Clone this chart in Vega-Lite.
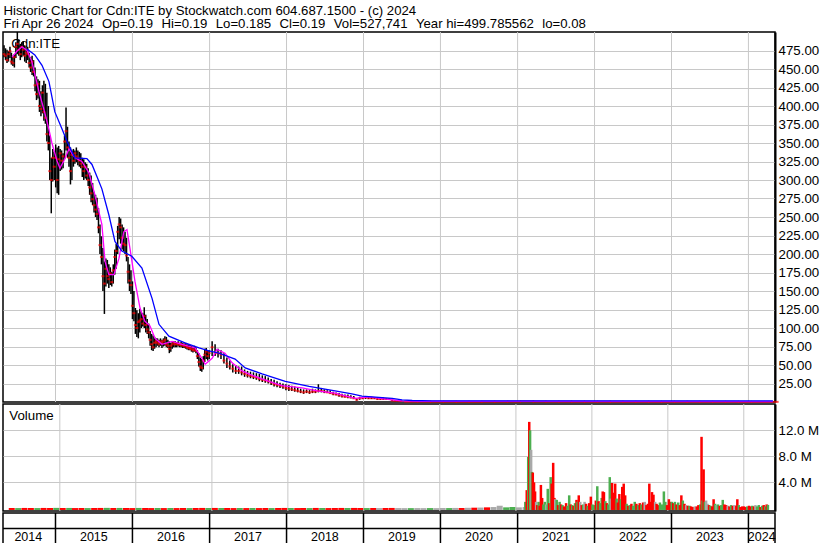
{
"$schema": "https://vega.github.io/schema/vega-lite/v6.json",
"padding": {"left": 1, "top": 3, "right": 0, "bottom": 0},
"background": "white",
"bounds": "flush",
"title": {"text": ["Historic Chart for Cdn:ITE by Stockwatch.com 604.687.1500 - (c) 2024", "Fri Apr 26 2024\u00a0\u200a\u00a0Op=0.19\u00a0\u200a\u00a0Hi=0.19\u00a0\u200a\u00a0Lo=0.185\u00a0\u200a\u00a0Cl=0.19\u00a0\u200a\u00a0Vol=527,741\u00a0\u200a\u00a0Year hi=499.785562\u00a0\u200a\u00a0lo=0.08"], "anchor": "start", "frame": "bounds", "font": "Liberation Sans", "fontSize": 13.2, "fontWeight": "normal", "color": "black", "lineHeight": 13.4, "offset": -1, "dx": 2, "baseline": "top"},
"spacing": 2,
"datasets": {
"ohlc": [
{"d":"2014-05-02","h":482,"l":466,"c":470},{"d":"2014-05-09","h":478,"l":462,"c":468},{"d":"2014-05-16","h":476,"l":458,"c":462},{"d":"2014-05-23","h":474,"l":460,"c":470},{"d":"2014-05-30","h":480,"l":465,"c":474},{"d":"2014-06-06","h":472,"l":456,"c":460},{"d":"2014-06-13","h":468,"l":454,"c":458},{"d":"2014-06-20","h":470,"l":452,"c":466},{"d":"2014-06-27","h":486,"l":465,"c":480},{"d":"2014-07-04","h":500,"l":470,"c":484},{"d":"2014-07-11","h":490,"l":468,"c":476},{"d":"2014-07-18","h":484,"l":462,"c":470},{"d":"2014-07-25","h":486,"l":466,"c":480},{"d":"2014-08-01","h":488,"l":468,"c":476},{"d":"2014-08-08","h":482,"l":460,"c":468},{"d":"2014-08-15","h":478,"l":458,"c":472},{"d":"2014-08-22","h":480,"l":462,"c":470},{"d":"2014-08-29","h":472,"l":452,"c":458},{"d":"2014-09-05","h":466,"l":446,"c":452},{"d":"2014-09-12","h":468,"l":442,"c":460},{"d":"2014-09-19","h":462,"l":440,"c":446},{"d":"2014-09-26","h":452,"l":420,"c":428},{"d":"2014-10-03","h":440,"l":408,"c":416},{"d":"2014-10-10","h":436,"l":410,"c":430},{"d":"2014-10-17","h":434,"l":392,"c":400},{"d":"2014-10-24","h":420,"l":386,"c":396},{"d":"2014-10-31","h":428,"l":390,"c":418},{"d":"2014-11-07","h":434,"l":380,"c":392},{"d":"2014-11-14","h":430,"l":376,"c":384},{"d":"2014-11-21","h":418,"l":352,"c":362},{"d":"2014-11-28","h":400,"l":340,"c":350},{"d":"2014-12-05","h":360,"l":300,"c":312},{"d":"2014-12-12","h":330,"l":255,"c":300},{"d":"2014-12-19","h":342,"l":298,"c":330},{"d":"2014-12-26","h":338,"l":300,"c":318},
{"d":"2015-01-02","h":348,"l":290,"c":330},{"d":"2015-01-09","h":344,"l":282,"c":300},{"d":"2015-01-16","h":346,"l":280,"c":328},{"d":"2015-01-23","h":342,"l":312,"c":336},{"d":"2015-01-30","h":340,"l":314,"c":326},{"d":"2015-02-06","h":336,"l":316,"c":332},{"d":"2015-02-13","h":360,"l":328,"c":352},{"d":"2015-02-20","h":398,"l":340,"c":366},{"d":"2015-02-27","h":372,"l":330,"c":344},{"d":"2015-03-06","h":352,"l":318,"c":330},{"d":"2015-03-13","h":344,"l":294,"c":312},{"d":"2015-03-20","h":340,"l":300,"c":334},{"d":"2015-03-27","h":342,"l":318,"c":326},{"d":"2015-04-03","h":340,"l":322,"c":336},{"d":"2015-04-10","h":344,"l":324,"c":332},{"d":"2015-04-17","h":340,"l":320,"c":330},{"d":"2015-04-24","h":338,"l":318,"c":326},{"d":"2015-05-01","h":336,"l":316,"c":322},{"d":"2015-05-08","h":330,"l":304,"c":318},{"d":"2015-05-15","h":328,"l":300,"c":312},{"d":"2015-05-22","h":324,"l":302,"c":318},{"d":"2015-05-29","h":322,"l":300,"c":306},{"d":"2015-06-05","h":316,"l":292,"c":300},{"d":"2015-06-12","h":310,"l":280,"c":290},{"d":"2015-06-19","h":306,"l":270,"c":282},{"d":"2015-06-26","h":296,"l":266,"c":274},{"d":"2015-07-03","h":284,"l":256,"c":266},{"d":"2015-07-10","h":280,"l":250,"c":260},{"d":"2015-07-17","h":276,"l":246,"c":254},{"d":"2015-07-24","h":262,"l":228,"c":236},{"d":"2015-07-31","h":240,"l":200,"c":212},{"d":"2015-08-07","h":224,"l":186,"c":196},{"d":"2015-08-14","h":208,"l":150,"c":170},{"d":"2015-08-21","h":190,"l":119,"c":160},{"d":"2015-08-28","h":194,"l":156,"c":180},{"d":"2015-09-04","h":192,"l":160,"c":170},{"d":"2015-09-11","h":186,"l":154,"c":166},{"d":"2015-09-18","h":182,"l":158,"c":174},{"d":"2015-09-25","h":176,"l":156,"c":162},{"d":"2015-10-02","h":186,"l":160,"c":178},{"d":"2015-10-09","h":206,"l":172,"c":196},{"d":"2015-10-16","h":214,"l":180,"c":204},{"d":"2015-10-23","h":238,"l":200,"c":230},{"d":"2015-10-30","h":250,"l":220,"c":240},{"d":"2015-11-06","h":248,"l":214,"c":236},{"d":"2015-11-13","h":240,"l":206,"c":222},{"d":"2015-11-20","h":236,"l":204,"c":214},{"d":"2015-11-27","h":230,"l":200,"c":212},{"d":"2015-12-04","h":222,"l":190,"c":198},{"d":"2015-12-11","h":196,"l":160,"c":176},{"d":"2015-12-18","h":186,"l":150,"c":164},{"d":"2015-12-25","h":178,"l":146,"c":158},
{"d":"2016-01-01","h":163,"l":112,"c":130},{"d":"2016-01-08","h":150,"l":109,"c":120},{"d":"2016-01-15","h":127,"l":92,"c":104},{"d":"2016-01-22","h":124,"l":88,"c":100},{"d":"2016-01-29","h":120,"l":86,"c":108},{"d":"2016-02-05","h":126,"l":94,"c":110},{"d":"2016-02-12","h":122,"l":100,"c":112},{"d":"2016-02-19","h":120,"l":102,"c":106},{"d":"2016-02-26","h":128,"l":100,"c":116},{"d":"2016-03-04","h":118,"l":94,"c":104},{"d":"2016-03-11","h":112,"l":92,"c":98},{"d":"2016-03-18","h":106,"l":86,"c":94},{"d":"2016-03-25","h":96,"l":76,"c":84},{"d":"2016-04-01","h":92,"l":70,"c":78},{"d":"2016-04-08","h":90,"l":69,"c":74},{"d":"2016-04-15","h":88,"l":72,"c":80},{"d":"2016-04-22","h":86,"l":74,"c":82},{"d":"2016-04-29","h":86,"l":76,"c":80},{"d":"2016-05-06","h":84,"l":74,"c":78},{"d":"2016-05-13","h":86,"l":76,"c":82},{"d":"2016-05-20","h":84,"l":73,"c":80},{"d":"2016-05-27","h":86,"l":75,"c":82},{"d":"2016-06-03","h":89,"l":76,"c":84},{"d":"2016-06-10","h":88,"l":74,"c":78},{"d":"2016-06-17","h":84,"l":73,"c":76},{"d":"2016-06-24","h":82,"l":66,"c":72},{"d":"2016-07-01","h":80,"l":68,"c":76},{"d":"2016-07-08","h":82,"l":72,"c":78},{"d":"2016-07-15","h":82,"l":74,"c":80},{"d":"2016-07-22","h":82,"l":74,"c":78},{"d":"2016-07-29","h":81,"l":74,"c":78},{"d":"2016-08-05","h":82,"l":75,"c":79},{"d":"2016-08-12","h":80,"l":74,"c":77},{"d":"2016-08-19","h":81,"l":74,"c":78},{"d":"2016-08-26","h":80,"l":73,"c":76},{"d":"2016-09-02","h":79,"l":73,"c":77},{"d":"2016-09-09","h":80,"l":72,"c":75},{"d":"2016-09-16","h":78,"l":71,"c":74},{"d":"2016-09-23","h":78,"l":70,"c":73},{"d":"2016-09-30","h":77,"l":70,"c":72},{"d":"2016-10-07","h":76,"l":68,"c":72},{"d":"2016-10-14","h":75,"l":67,"c":70},{"d":"2016-10-21","h":76,"l":68,"c":71},{"d":"2016-10-28","h":74,"l":66,"c":69},{"d":"2016-11-04","h":70,"l":58,"c":62},{"d":"2016-11-11","h":66,"l":48,"c":54},{"d":"2016-11-18","h":60,"l":42,"c":48},{"d":"2016-11-25","h":58,"l":41,"c":46},{"d":"2016-12-02","h":62,"l":44,"c":56},{"d":"2016-12-09","h":72,"l":54,"c":64},{"d":"2016-12-16","h":73,"l":58,"c":68},{"d":"2016-12-23","h":70,"l":56,"c":62},{"d":"2016-12-30","h":70,"l":58,"c":66},
{"d":"2017-01-13","h":82,"l":62,"c":74},{"d":"2017-01-27","h":78,"l":62,"c":66},{"d":"2017-02-10","h":72,"l":60,"c":66},{"d":"2017-02-24","h":70,"l":58,"c":64},{"d":"2017-03-10","h":66,"l":52,"c":56},{"d":"2017-03-24","h":60,"l":46,"c":52},{"d":"2017-04-07","h":56,"l":44,"c":48},{"d":"2017-04-21","h":51,"l":40,"c":45},{"d":"2017-05-05","h":50,"l":38,"c":42},{"d":"2017-05-19","h":48,"l":38,"c":42},{"d":"2017-06-02","h":48,"l":36,"c":40},{"d":"2017-06-16","h":44,"l":34,"c":38},{"d":"2017-06-30","h":42,"l":33,"c":36},{"d":"2017-07-14","h":41,"l":32,"c":35},{"d":"2017-07-28","h":40,"l":31,"c":34},{"d":"2017-08-11","h":39,"l":30,"c":33},{"d":"2017-08-25","h":38,"l":28,"c":31},{"d":"2017-09-08","h":36,"l":27,"c":30},{"d":"2017-09-22","h":35,"l":26,"c":29},{"d":"2017-10-06","h":33,"l":25,"c":28},{"d":"2017-10-20","h":31,"l":23,"c":26},{"d":"2017-11-03","h":30,"l":21,"c":24},{"d":"2017-11-17","h":28,"l":20,"c":23},{"d":"2017-12-01","h":26,"l":19,"c":22},{"d":"2017-12-15","h":25,"l":18,"c":21},{"d":"2017-12-29","h":24,"l":16,"c":19},
{"d":"2018-01-12","h":23,"l":15,"c":18},{"d":"2018-01-26","h":22,"l":15,"c":17},{"d":"2018-02-09","h":21,"l":14,"c":16},{"d":"2018-02-23","h":19,"l":13,"c":15},{"d":"2018-03-09","h":18,"l":12,"c":14},{"d":"2018-03-23","h":17,"l":11,"c":13},{"d":"2018-04-06","h":17,"l":12,"c":14},{"d":"2018-04-20","h":16,"l":11,"c":13},{"d":"2018-05-04","h":18,"l":12,"c":14},{"d":"2018-05-18","h":17,"l":12,"c":14},{"d":"2018-06-01","h":24,"l":13,"c":15},{"d":"2018-06-15","h":19,"l":13,"c":15},{"d":"2018-06-29","h":17,"l":12,"c":14},{"d":"2018-07-13","h":16,"l":12,"c":13},{"d":"2018-07-27","h":16,"l":11,"c":12},{"d":"2018-08-10","h":14,"l":9,"c":11},{"d":"2018-08-24","h":13,"l":9,"c":10},{"d":"2018-09-07","h":12,"l":7,"c":9},{"d":"2018-09-21","h":11,"l":6,"c":8},{"d":"2018-10-05","h":10,"l":6,"c":7},{"d":"2018-10-19","h":10,"l":5,"c":7},{"d":"2018-11-02","h":9,"l":5,"c":6},{"d":"2018-11-16","h":8,"l":4,"c":5},{"d":"2018-11-30","h":5,"l":2,"c":3},{"d":"2018-12-14","h":7,"l":3,"c":5},{"d":"2018-12-28","h":7,"l":4,"c":5},
{"d":"2019-01-11","h":8,"l":4,"c":6},{"d":"2019-01-25","h":7,"l":4,"c":5},{"d":"2019-02-08","h":7,"l":4,"c":5},{"d":"2019-02-22","h":6,"l":4,"c":5},{"d":"2019-03-08","h":6,"l":3,"c":4},{"d":"2019-03-22","h":6,"l":3,"c":4},{"d":"2019-04-05","h":6,"l":3,"c":4},{"d":"2019-04-19","h":5,"l":3,"c":4},{"d":"2019-05-03","h":5,"l":3,"c":4},{"d":"2019-05-17","h":3,"l":1.5,"c":2},{"d":"2019-05-31","h":2.5,"l":1,"c":1.5},{"d":"2019-06-14","h":2,"l":1,"c":1.5},{"d":"2019-06-28","h":2,"l":0.8,"c":1.2}
],
"flat": [
{"d":"2019-08-15","h":0.9,"l":0.4,"c":0.5},{"d":"2019-10-15","h":0.8,"l":0.4,"c":0.5},{"d":"2019-12-15","h":0.7,"l":0.3,"c":0.4},{"d":"2020-02-15","h":0.7,"l":0.3,"c":0.4},{"d":"2020-04-15","h":0.6,"l":0.2,"c":0.3},{"d":"2020-06-15","h":0.6,"l":0.2,"c":0.3},{"d":"2020-08-15","h":0.7,"l":0.3,"c":0.4},{"d":"2020-10-15","h":0.7,"l":0.3,"c":0.4},{"d":"2020-12-15","h":0.8,"l":0.3,"c":0.5},{"d":"2021-02-15","h":1.2,"l":0.4,"c":0.8},{"d":"2021-04-15","h":1.0,"l":0.4,"c":0.6},{"d":"2021-06-15","h":0.9,"l":0.4,"c":0.5},{"d":"2021-08-15","h":0.8,"l":0.3,"c":0.5},{"d":"2021-10-15","h":0.8,"l":0.3,"c":0.4},{"d":"2021-12-15","h":0.7,"l":0.3,"c":0.4},{"d":"2022-02-15","h":0.7,"l":0.3,"c":0.4},{"d":"2022-04-15","h":0.7,"l":0.3,"c":0.4},{"d":"2022-06-15","h":0.6,"l":0.2,"c":0.3},{"d":"2022-08-15","h":0.6,"l":0.2,"c":0.3},{"d":"2022-10-15","h":0.6,"l":0.2,"c":0.3},{"d":"2022-12-15","h":0.5,"l":0.2,"c":0.3},{"d":"2023-02-15","h":0.5,"l":0.2,"c":0.3},{"d":"2023-04-15","h":0.5,"l":0.2,"c":0.3},{"d":"2023-06-15","h":0.6,"l":0.2,"c":0.3},{"d":"2023-08-15","h":0.5,"l":0.2,"c":0.25},{"d":"2023-10-15","h":0.4,"l":0.2,"c":0.25},{"d":"2023-12-15","h":0.4,"l":0.15,"c":0.2},{"d":"2024-02-15","h":0.3,"l":0.15,"c":0.2},{"d":"2024-04-20","h":0.3,"l":0.15,"c":0.19}
],
"fast": [
{"d":"2014-06-09","v":466},{"d":"2014-07-02","v":474},{"d":"2014-07-26","v":480},{"d":"2014-08-19","v":475},{"d":"2014-09-11","v":460},{"d":"2014-10-14","v":420},{"d":"2014-11-12","v":390},{"d":"2014-12-01","v":368},{"d":"2014-12-15","v":350},{"d":"2015-01-08","v":326},{"d":"2015-01-22","v":316},{"d":"2015-02-10","v":326},{"d":"2015-03-06","v":342},{"d":"2015-04-03","v":330},{"d":"2015-05-06","v":325},{"d":"2015-06-08","v":310},{"d":"2015-07-07","v":280},{"d":"2015-08-09","v":240},{"d":"2015-08-24","v":190},{"d":"2015-09-11","v":172},{"d":"2015-10-05","v":172},{"d":"2015-10-29","v":194},{"d":"2015-11-21","v":230},{"d":"2015-12-06","v":233},{"d":"2015-12-20","v":208},{"d":"2016-01-13","v":163},{"d":"2016-02-06","v":127},{"d":"2016-02-29","v":109},{"d":"2016-03-24","v":103},{"d":"2016-04-17","v":86},{"d":"2016-05-20","v":78},{"d":"2016-07-07","v":82},{"d":"2016-08-23","v":78},{"d":"2016-10-24","v":73},{"d":"2016-11-26","v":59},{"d":"2016-12-11","v":51},{"d":"2017-01-13","v":59},{"d":"2017-02-05","v":71},{"d":"2017-03-15","v":66},{"d":"2017-04-18","v":53},{"d":"2017-06-04","v":42},{"d":"2017-07-22","v":36},{"d":"2017-10-10","v":28},{"d":"2017-12-11","v":22},{"d":"2018-03-16","v":19},{"d":"2018-05-26","v":15},{"d":"2018-08-19","v":12},{"d":"2018-11-22","v":5},{"d":"2019-01-27","v":7},{"d":"2019-05-17","v":3},{"d":"2019-07-03","v":1.5},{"d":"2019-10-06","v":0.8},{"d":"2024-04-26","v":0.6}
],
"slow": [
{"d":"2014-08-19","v":477},{"d":"2014-09-25","v":469},{"d":"2014-10-29","v":455},{"d":"2014-12-01","v":433},{"d":"2014-12-29","v":392},{"d":"2015-02-01","v":369},{"d":"2015-02-25","v":352},{"d":"2015-04-03","v":330},{"d":"2015-05-30","v":329},{"d":"2015-06-23","v":321},{"d":"2015-07-16","v":305},{"d":"2015-08-09","v":288},{"d":"2015-09-11","v":253},{"d":"2015-10-10","v":217},{"d":"2015-11-12","v":204},{"d":"2015-12-29","v":197},{"d":"2016-02-15","v":181},{"d":"2016-04-03","v":140},{"d":"2016-05-06","v":105},{"d":"2016-06-22","v":89},{"d":"2016-09-06","v":80},{"d":"2016-11-12","v":73},{"d":"2016-12-29","v":69},{"d":"2017-02-14","v":66},{"d":"2017-05-02","v":58},{"d":"2017-06-19","v":46},{"d":"2017-09-07","v":38},{"d":"2017-12-26","v":28},{"d":"2018-04-18","v":21},{"d":"2018-08-19","v":15},{"d":"2018-11-07","v":11},{"d":"2018-12-25","v":8},{"d":"2019-05-17","v":5},{"d":"2019-07-03","v":3},{"d":"2019-08-20","v":2},{"d":"2019-11-22","v":1.6},{"d":"2024-04-26","v":1.5}
],
"vlow": [
{"d":"2014-05-15","v":0.05,"k":"d"},{"d":"2014-06-15","v":0.04,"k":"u"},{"d":"2014-07-15","v":0.06,"k":"d"},{"d":"2014-08-15","v":0.05,"k":"d"},{"d":"2014-09-15","v":0.04,"k":"u"},{"d":"2014-10-15","v":0.06,"k":"d"},{"d":"2014-11-15","v":0.05,"k":"d"},{"d":"2014-12-15","v":0.07,"k":"u"},{"d":"2015-01-15","v":0.05,"k":"d"},{"d":"2015-02-15","v":0.06,"k":"u"},{"d":"2015-03-15","v":0.04,"k":"d"},{"d":"2015-04-15","v":0.05,"k":"d"},{"d":"2015-05-15","v":0.04,"k":"u"},{"d":"2015-06-15","v":0.05,"k":"d"},{"d":"2015-07-15","v":0.06,"k":"d"},{"d":"2015-08-15","v":0.07,"k":"u"},{"d":"2015-09-15","v":0.05,"k":"d"},{"d":"2015-10-15","v":0.06,"k":"u"},{"d":"2015-11-15","v":0.05,"k":"d"},{"d":"2015-12-15","v":0.04,"k":"d"},{"d":"2016-01-15","v":0.06,"k":"u"},{"d":"2016-02-15","v":0.05,"k":"d"},{"d":"2016-03-15","v":0.04,"k":"d"},{"d":"2016-04-15","v":0.05,"k":"u"},{"d":"2016-05-15","v":0.04,"k":"d"},{"d":"2016-06-15","v":0.05,"k":"u"},{"d":"2016-07-15","v":0.04,"k":"d"},{"d":"2016-08-15","v":0.05,"k":"d"},{"d":"2016-09-15","v":0.04,"k":"u"},{"d":"2016-10-15","v":0.05,"k":"d"},{"d":"2016-11-15","v":0.06,"k":"d"},{"d":"2016-12-15","v":0.05,"k":"u"},{"d":"2017-01-15","v":0.06,"k":"d"},{"d":"2017-02-15","v":0.05,"k":"u"},{"d":"2017-03-15","v":0.05,"k":"d"},{"d":"2017-04-15","v":0.04,"k":"d"},{"d":"2017-05-15","v":0.05,"k":"u"},{"d":"2017-06-15","v":0.04,"k":"d"},{"d":"2017-07-15","v":0.05,"k":"u"},{"d":"2017-08-15","v":0.04,"k":"d"},{"d":"2017-09-15","v":0.05,"k":"d"},{"d":"2017-10-15","v":0.04,"k":"u"},{"d":"2017-11-15","v":0.05,"k":"d"},{"d":"2017-12-15","v":0.06,"k":"d"},{"d":"2018-01-15","v":0.05,"k":"u"},{"d":"2018-02-15","v":0.04,"k":"d"},{"d":"2018-03-15","v":0.05,"k":"d"},{"d":"2018-04-15","v":0.04,"k":"u"},{"d":"2018-05-15","v":0.06,"k":"d"},{"d":"2018-06-15","v":0.05,"k":"u"},{"d":"2018-07-15","v":0.04,"k":"d"},{"d":"2018-08-15","v":0.05,"k":"d"},{"d":"2018-09-15","v":0.06,"k":"d"},{"d":"2018-10-15","v":0.05,"k":"u"},{"d":"2018-11-15","v":0.06,"k":"d"},{"d":"2018-12-15","v":0.05,"k":"d"},{"d":"2019-01-15","v":0.04,"k":"u"},{"d":"2019-02-15","v":0.05,"k":"d"},{"d":"2019-03-15","v":0.04,"k":"n"},{"d":"2019-04-15","v":0.05,"k":"d"},{"d":"2019-05-15","v":0.06,"k":"d"},{"d":"2019-06-15","v":0.04,"k":"n"},{"d":"2019-07-15","v":0.03,"k":"n"},{"d":"2019-08-15","v":0.03,"k":"u"},{"d":"2019-09-15","v":0.04,"k":"n"},{"d":"2019-10-15","v":0.03,"k":"n"},{"d":"2019-11-15","v":0.04,"k":"u"},{"d":"2019-12-15","v":0.03,"k":"n"},{"d":"2020-01-15","v":0.05,"k":"n"},{"d":"2020-02-15","v":0.04,"k":"u"},{"d":"2020-03-15","v":0.06,"k":"n"},{"d":"2020-04-15","v":0.05,"k":"d"},{"d":"2020-05-15","v":0.08,"k":"n"},{"d":"2020-06-15","v":0.1,"k":"d"},{"d":"2020-07-15","v":0.12,"k":"n"},{"d":"2020-08-15","v":0.15,"k":"d"},{"d":"2020-09-15","v":0.2,"k":"n"},{"d":"2020-10-15","v":0.4,"k":"n"},{"d":"2020-11-15","v":0.15,"k":"u"},{"d":"2020-12-15","v":0.2,"k":"u"},{"d":"2021-01-15","v":0.15,"k":"n"}
],
"vhigh": [
{"d":"2021-02-08","v":0.2,"k":"n"},{"d":"2021-02-15","v":1.0,"k":"u"},{"d":"2021-02-22","v":2.8,"k":"d"},{"d":"2021-03-01","v":7.9,"k":"u"},{"d":"2021-03-06","v":13.3,"k":"d"},{"d":"2021-03-10","v":12.0,"k":"u"},{"d":"2021-03-15","v":9.0,"k":"n"},{"d":"2021-03-19","v":5.6,"k":"u"},{"d":"2021-03-23","v":5.5,"k":"d"},{"d":"2021-03-29","v":4.0,"k":"d"},{"d":"2021-04-03","v":2.6,"k":"d"},{"d":"2021-04-08","v":1.0,"k":"n"},{"d":"2021-04-13","v":0.5,"k":"d"},{"d":"2021-04-20","v":1.0,"k":"u"},{"d":"2021-04-25","v":0.4,"k":"d"},{"d":"2021-05-01","v":3.6,"k":"d"},{"d":"2021-05-07","v":1.6,"k":"d"},{"d":"2021-05-13","v":0.6,"k":"u"},{"d":"2021-05-20","v":1.0,"k":"u"},{"d":"2021-05-27","v":0.6,"k":"n"},{"d":"2021-06-03","v":3.0,"k":"u"},{"d":"2021-06-10","v":0.8,"k":"d"},{"d":"2021-06-17","v":4.8,"k":"u"},{"d":"2021-06-22","v":3.8,"k":"d"},{"d":"2021-06-29","v":7.0,"k":"d"},{"d":"2021-07-05","v":1.6,"k":"d"},{"d":"2021-07-09","v":1.4,"k":"n"},{"d":"2021-07-16","v":1.3,"k":"u"},{"d":"2021-07-23","v":0.5,"k":"d"},{"d":"2021-07-30","v":1.0,"k":"u"},{"d":"2021-08-06","v":0.6,"k":"d"},{"d":"2021-08-13","v":0.5,"k":"u"},{"d":"2021-08-20","v":0.3,"k":"d"},{"d":"2021-08-30","v":0.8,"k":"d"},{"d":"2021-09-06","v":0.4,"k":"u"},{"d":"2021-09-14","v":2.0,"k":"u"},{"d":"2021-09-21","v":0.6,"k":"d"},{"d":"2021-09-28","v":0.5,"k":"u"},{"d":"2021-10-05","v":0.4,"k":"d"},{"d":"2021-10-12","v":0.8,"k":"u"},{"d":"2021-10-19","v":1.3,"k":"d"},{"d":"2021-10-24","v":1.0,"k":"u"},{"d":"2021-10-30","v":2.0,"k":"d"},{"d":"2021-11-06","v":1.0,"k":"n"},{"d":"2021-11-13","v":0.5,"k":"d"},{"d":"2021-11-20","v":0.6,"k":"u"},{"d":"2021-11-27","v":1.0,"k":"n"},{"d":"2021-12-04","v":0.7,"k":"d"},{"d":"2021-12-12","v":0.4,"k":"u"},{"d":"2021-12-19","v":0.8,"k":"d"},{"d":"2021-12-27","v":1.8,"k":"d"},
{"d":"2022-01-04","v":0.6,"k":"u"},{"d":"2022-01-11","v":0.5,"k":"u"},{"d":"2022-01-20","v":1.2,"k":"d"},{"d":"2022-01-27","v":3.4,"k":"u"},{"d":"2022-02-02","v":1.1,"k":"d"},{"d":"2022-02-09","v":0.8,"k":"u"},{"d":"2022-02-17","v":1.6,"k":"u"},{"d":"2022-02-22","v":2.6,"k":"d"},{"d":"2022-02-28","v":2.5,"k":"d"},{"d":"2022-03-07","v":1.1,"k":"u"},{"d":"2022-03-14","v":0.8,"k":"d"},{"d":"2022-03-21","v":0.6,"k":"u"},{"d":"2022-03-28","v":4.8,"k":"u"},{"d":"2022-04-02","v":1.5,"k":"n"},{"d":"2022-04-08","v":3.9,"k":"d"},{"d":"2022-04-16","v":2.4,"k":"d"},{"d":"2022-04-23","v":3.8,"k":"d"},{"d":"2022-04-30","v":1.5,"k":"u"},{"d":"2022-05-06","v":0.9,"k":"d"},{"d":"2022-05-13","v":2.2,"k":"d"},{"d":"2022-05-20","v":1.4,"k":"u"},{"d":"2022-05-27","v":3.3,"k":"d"},{"d":"2022-06-03","v":3.8,"k":"d"},{"d":"2022-06-10","v":2.0,"k":"d"},{"d":"2022-06-17","v":0.7,"k":"u"},{"d":"2022-06-25","v":0.4,"k":"d"},{"d":"2022-07-02","v":0.5,"k":"u"},{"d":"2022-07-10","v":0.7,"k":"d"},{"d":"2022-07-18","v":0.4,"k":"u"},{"d":"2022-07-26","v":1.0,"k":"u"},{"d":"2022-08-03","v":0.7,"k":"d"},{"d":"2022-08-11","v":0.5,"k":"u"},{"d":"2022-08-19","v":0.8,"k":"d"},{"d":"2022-08-27","v":0.6,"k":"u"},{"d":"2022-09-04","v":0.9,"k":"d"},{"d":"2022-09-12","v":1.0,"k":"n"},{"d":"2022-09-20","v":0.5,"k":"d"},{"d":"2022-09-27","v":0.7,"k":"d"},{"d":"2022-10-04","v":3.8,"k":"d"},{"d":"2022-10-10","v":1.0,"k":"d"},{"d":"2022-10-17","v":2.5,"k":"d"},{"d":"2022-10-24","v":2.1,"k":"d"},{"d":"2022-11-01","v":1.0,"k":"n"},{"d":"2022-11-08","v":0.7,"k":"d"},{"d":"2022-11-16","v":0.5,"k":"d"},{"d":"2022-11-24","v":0.9,"k":"u"},{"d":"2022-12-05","v":0.6,"k":"u"},{"d":"2022-12-13","v":2.6,"k":"u"},{"d":"2022-12-20","v":1.0,"k":"u"},{"d":"2022-12-28","v":0.5,"k":"d"},
{"d":"2023-01-06","v":1.4,"k":"d"},{"d":"2023-01-13","v":1.0,"k":"d"},{"d":"2023-01-20","v":1.0,"k":"u"},{"d":"2023-01-27","v":0.8,"k":"d"},{"d":"2023-02-04","v":1.0,"k":"u"},{"d":"2023-02-12","v":0.6,"k":"d"},{"d":"2023-02-20","v":0.9,"k":"u"},{"d":"2023-02-28","v":0.5,"k":"d"},{"d":"2023-03-07","v":2.0,"k":"d"},{"d":"2023-03-14","v":1.2,"k":"u"},{"d":"2023-03-22","v":0.7,"k":"d"},{"d":"2023-03-30","v":0.5,"k":"n"},{"d":"2023-04-07","v":0.4,"k":"d"},{"d":"2023-04-15","v":0.4,"k":"u"},{"d":"2023-04-23","v":0.3,"k":"d"},{"d":"2023-05-01","v":0.2,"k":"d"},{"d":"2023-05-10","v":0.3,"k":"n"},{"d":"2023-05-20","v":0.3,"k":"d"},{"d":"2023-05-28","v":0.5,"k":"d"},{"d":"2023-06-06","v":0.6,"k":"u"},{"d":"2023-06-12","v":11.0,"k":"d"},{"d":"2023-06-17","v":1.2,"k":"u"},{"d":"2023-06-22","v":6.0,"k":"d"},{"d":"2023-06-28","v":1.0,"k":"u"},{"d":"2023-07-04","v":1.2,"k":"n"},{"d":"2023-07-11","v":0.7,"k":"n"},{"d":"2023-07-18","v":0.5,"k":"d"},{"d":"2023-07-25","v":0.4,"k":"u"},{"d":"2023-08-02","v":0.3,"k":"d"},{"d":"2023-08-09","v":1.4,"k":"d"},{"d":"2023-08-16","v":0.7,"k":"u"},{"d":"2023-08-23","v":0.5,"k":"n"},{"d":"2023-08-30","v":0.6,"k":"u"},{"d":"2023-09-07","v":0.4,"k":"d"},{"d":"2023-09-15","v":0.5,"k":"u"},{"d":"2023-09-22","v":1.3,"k":"u"},{"d":"2023-09-30","v":0.6,"k":"d"},{"d":"2023-10-08","v":0.5,"k":"d"},{"d":"2023-10-16","v":0.4,"k":"n"},{"d":"2023-10-24","v":0.3,"k":"d"},{"d":"2023-11-01","v":0.5,"k":"u"},{"d":"2023-11-09","v":0.4,"k":"d"},{"d":"2023-11-17","v":0.5,"k":"n"},{"d":"2023-11-26","v":0.4,"k":"d"},{"d":"2023-12-01","v":1.4,"k":"d"},{"d":"2023-12-08","v":0.5,"k":"u"},{"d":"2023-12-16","v":0.2,"k":"d"},{"d":"2023-12-24","v":0.3,"k":"d"},
{"d":"2024-01-02","v":0.3,"k":"d"},{"d":"2024-01-10","v":0.2,"k":"d"},{"d":"2024-01-18","v":0.3,"k":"u"},{"d":"2024-01-26","v":0.4,"k":"d"},{"d":"2024-02-03","v":0.3,"k":"d"},{"d":"2024-02-11","v":0.4,"k":"u"},{"d":"2024-02-19","v":0.3,"k":"d"},{"d":"2024-02-26","v":0.5,"k":"n"},{"d":"2024-03-05","v":0.3,"k":"u"},{"d":"2024-03-13","v":0.5,"k":"u"},{"d":"2024-03-21","v":0.2,"k":"d"},{"d":"2024-03-29","v":0.4,"k":"u"},{"d":"2024-04-06","v":0.5,"k":"d"},{"d":"2024-04-13","v":0.3,"k":"u"},{"d":"2024-04-20","v":0.6,"k":"d"},{"d":"2024-04-26","v":0.53,"k":"u"}
],
"yb": [{"d":"2015-01-01"},{"d":"2016-01-01"},{"d":"2017-01-01"},{"d":"2018-01-01"},{"d":"2019-01-01"},{"d":"2020-01-01"},{"d":"2021-01-01"},{"d":"2022-01-01"},{"d":"2023-01-01"},{"d":"2024-01-01"}],
"yl": [{"y":"2014","m":"2014-08-25"},{"y":"2015","m":"2015-07-02"},{"y":"2016","m":"2016-07-02"},{"y":"2017","m":"2017-07-02"},{"y":"2018","m":"2018-07-02"},{"y":"2019","m":"2019-07-02"},{"y":"2020","m":"2020-07-02"},{"y":"2021","m":"2021-07-02"},{"y":"2022","m":"2022-07-02"},{"y":"2023","m":"2023-07-02"},{"y":"2024","m":"2024-03-04"}]
},
"vconcat": [
{
"width": 772, "height": 370,
"layer": [
{"data": {"name": "yb"}, "mark": {"type": "rule", "color": "#c8c8c8", "strokeWidth": 1},
 "encoding": {"x": {"field": "d", "type": "temporal", "scale": {"type": "utc", "domain": [{"year": 2014, "month": 4, "date": 27, "utc": true}, {"year": 2024, "month": 5, "date": 6, "utc": true}]}, "axis": null}}},
{"data": {"values": [{"t": "Cdn:ITE", "d": "2014-06-05", "p": 479}]},
 "mark": {"type": "text", "align": "left", "baseline": "alphabetic", "font": "Liberation Sans", "fontSize": 13.3, "color": "black"},
 "encoding": {
  "x": {"field": "d", "type": "temporal", "axis": null},
  "y": {"field": "p", "type": "quantitative", "scale": {"domain": [0, 500], "nice": false, "zero": false},
        "axis": {"orient": "right", "values": [25,50,75,100,125,150,175,200,225,250,275,300,325,350,375,400,425,450,475], "tickCount": 40, "format": ".2f", "grid": true, "title": null, "labelPadding": 3, "labelOverlap": false, "labelBound": false, "labelFlush": false}},
  "text": {"field": "t"}
 }},
{"data": {"name": "ohlc"}, "mark": {"type": "rule", "color": "black", "strokeWidth": 1.5},
 "encoding": {"x": {"field": "d", "type": "temporal", "axis": null}, "y": {"field": "l", "type": "quantitative"}, "y2": {"field": "h"}}},
{"data": {"name": "ohlc"}, "mark": {"type": "tick", "orient": "horizontal", "color": "#ff0000", "thickness": 2, "size": 3},
 "encoding": {"x": {"field": "d", "type": "temporal", "axis": null}, "y": {"field": "c", "type": "quantitative"}}},
{"data": {"name": "flat"}, "mark": {"type": "rule", "color": "black", "strokeWidth": 1.5},
 "encoding": {"x": {"field": "d", "type": "temporal", "axis": null}, "y": {"field": "l", "type": "quantitative"}, "y2": {"field": "h"}}},
{"data": {"name": "flat"}, "mark": {"type": "tick", "orient": "horizontal", "color": "#ff0000", "thickness": 2, "size": 14},
 "encoding": {"x": {"field": "d", "type": "temporal", "axis": null}, "y": {"field": "c", "type": "quantitative"}}},
{"data": {"name": "fast"}, "mark": {"type": "line", "color": "#ff00ff", "strokeWidth": 1.3},
 "encoding": {"x": {"field": "d", "type": "temporal", "axis": null}, "y": {"field": "v", "type": "quantitative"}}},
{"data": {"name": "slow"}, "mark": {"type": "line", "color": "#0000ff", "strokeWidth": 1.3},
 "encoding": {"x": {"field": "d", "type": "temporal", "axis": null}, "y": {"field": "v", "type": "quantitative"}}}
]
},
{
"width": 772, "height": 107,
"layer": [
{"data": {"name": "yb"}, "mark": {"type": "rule", "color": "#c8c8c8", "strokeWidth": 1},
 "encoding": {"x": {"field": "d", "type": "temporal", "scale": {"type": "utc", "domain": [{"year": 2014, "month": 4, "date": 27, "utc": true}, {"year": 2024, "month": 5, "date": 6, "utc": true}]}, "axis": null}}},
{"data": {"values": [{"t": "Volume", "d": "2014-05-03", "v": 13.6}]},
 "mark": {"type": "text", "align": "left", "baseline": "alphabetic", "font": "Liberation Sans", "fontSize": 13.3, "color": "black"},
 "encoding": {
  "x": {"field": "d", "type": "temporal", "axis": null},
  "y": {"field": "v", "type": "quantitative", "scale": {"domain": [-0.41, 16.05], "nice": false, "zero": false},
        "axis": {"orient": "right", "values": [4, 8, 12], "tickCount": 10, "labelExpr": "format(datum.value, '.1f') + ' M'", "grid": true, "title": null, "labelPadding": 3, "labelOverlap": false}},
  "text": {"field": "t"}
 }},
{"data": {"name": "vlow"}, "mark": {"type": "bar", "size": 6},
 "encoding": {"x": {"field": "d", "type": "temporal", "axis": null}, "y": {"field": "v", "type": "quantitative"}, "y2": {"datum": -0.25},
  "color": {"field": "k", "type": "nominal", "scale": {"domain": ["u", "d", "n"], "range": ["#4caf50", "#ff0000", "#a9a9a9"]}, "legend": null}}},
{"data": {"name": "vhigh"}, "mark": {"type": "bar", "size": 2.5},
 "encoding": {"x": {"field": "d", "type": "temporal", "axis": null}, "y": {"field": "v", "type": "quantitative"}, "y2": {"datum": -0.25},
  "color": {"field": "k", "type": "nominal", "scale": {"domain": ["u", "d", "n"], "range": ["#4caf50", "#ff0000", "#a9a9a9"]}, "legend": null}}}
]
},
{
"width": 772, "height": 31,
"layer": [
{"data": {"name": "yb"}, "mark": {"type": "rule", "color": "black", "strokeWidth": 1.5},
 "encoding": {"x": {"field": "d", "type": "temporal", "scale": {"type": "utc", "domain": [{"year": 2014, "month": 4, "date": 27, "utc": true}, {"year": 2024, "month": 5, "date": 6, "utc": true}]}, "axis": null}}},
{"data": {"values": [{"m": 1}]}, "mark": {"type": "rule", "color": "black", "strokeWidth": 1.5},
 "encoding": {"y": {"field": "m", "type": "quantitative", "scale": {"domain": [0, 2], "nice": false}, "axis": null}}},
{"data": {"name": "yl"}, "mark": {"type": "text", "font": "Liberation Sans", "fontSize": 12.5, "baseline": "middle", "align": "center", "color": "black"},
 "encoding": {"x": {"field": "m", "type": "temporal", "axis": null}, "y": {"datum": 0.42}, "text": {"field": "y"}}}
]
}
],
"config": {
 "view": {"stroke": "black", "strokeWidth": 1.5},
 "axis": {"gridColor": "#c8c8c8", "gridWidth": 1, "gridOpacity": 1, "labelFont": "Liberation Sans", "labelFontSize": 13.3, "labelColor": "black", "ticks": false, "domainColor": "black", "domainWidth": 2, "labelAlign": "left", "labelOverlap": false},
 "font": "Liberation Sans"
}
}
